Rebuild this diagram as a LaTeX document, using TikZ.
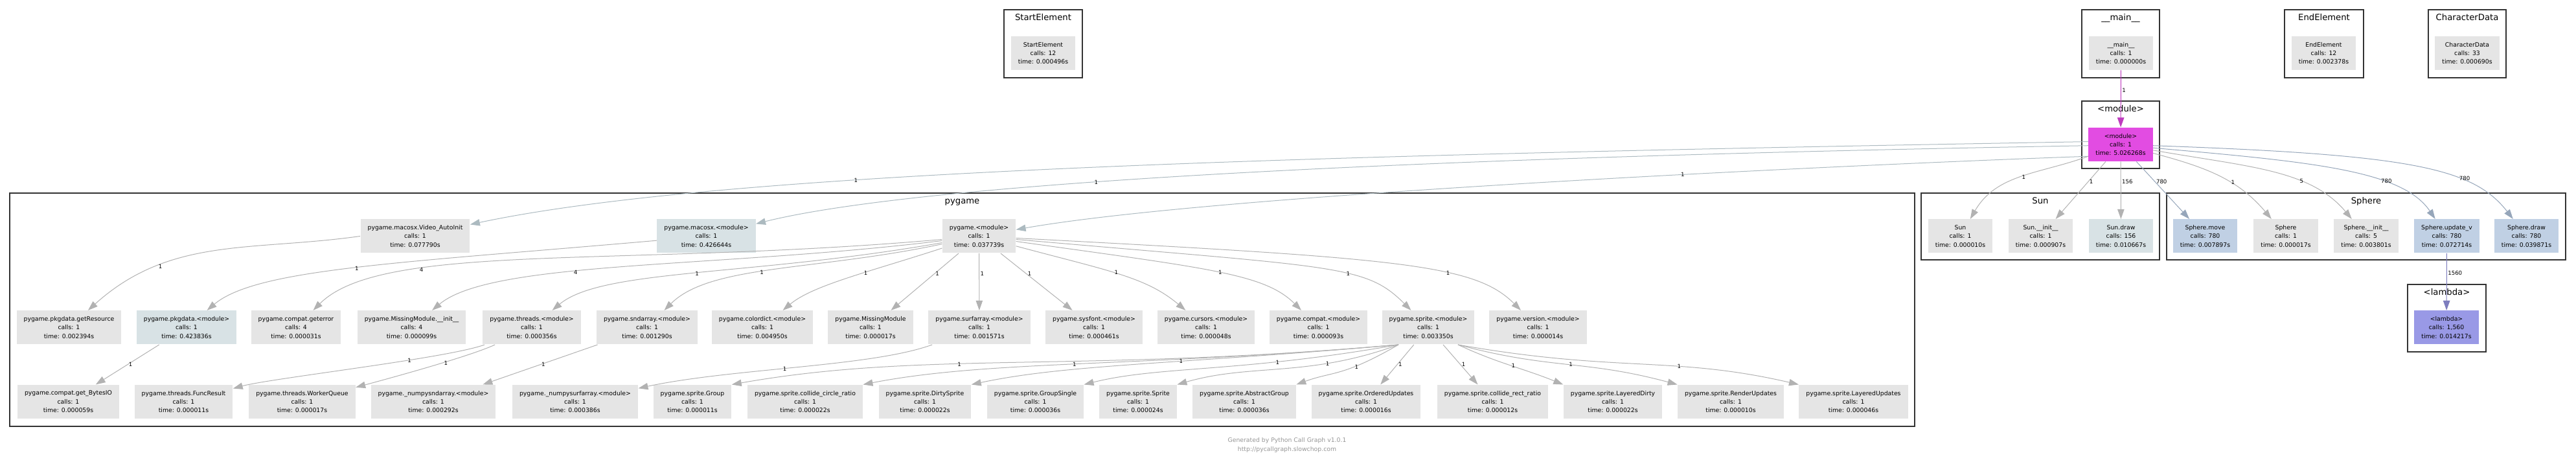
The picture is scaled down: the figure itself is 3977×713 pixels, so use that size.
\documentclass[tikz,border=0pt]{standalone}
\usepackage{fontspec}
\setmainfont{DejaVu Sans}
\usetikzlibrary{arrows.meta}
\definecolor{frame}{RGB}{51,51,51}
\definecolor{boxgray}{RGB}{229,229,229}
\definecolor{boxslate}{RGB}{216,226,229}
\definecolor{boxsteel}{RGB}{192,208,228}
\definecolor{boxmagenta}{RGB}{226,76,226}
\definecolor{boxviolet}{RGB}{153,153,230}
\definecolor{wire}{RGB}{178,178,178}
\definecolor{wireslate}{RGB}{172,186,192}
\definecolor{wiresteel}{RGB}{150,166,186}
\definecolor{wiremagenta}{RGB}{190,60,190}
\definecolor{wireviolet}{RGB}{125,125,190}
\definecolor{footgray}{RGB}{150,150,150}
\tikzset{
  every picture/.style={line width=0.25pt},
  func/.style={fill=boxgray, inner xsep=2.75pt, inner ysep=0pt, minimum width=24.75pt, minimum height=13pt, align=center, font=\fontsize{2.325}{3.35}\selectfont},
  funcslate/.style={func, fill=boxslate},
  funcsteel/.style={func, fill=boxsteel},
  funcmain/.style={func, fill=boxmagenta},
  funclambda/.style={func, fill=boxviolet},
  cluster/.style={draw=frame, line width=0.575pt, inner sep=0pt},
  ctitle/.style={anchor=base, yshift=-4.5pt, inner sep=0pt, font=\fontsize{3.3}{3.75}\selectfont},
  call/.style={draw=wire, -{Triangle[length=3.75pt,width=2.6pt]}, line width=0.25pt},
  callslate/.style={call, draw=wireslate},
  callsteel/.style={call, draw=wiresteel},
  callmain/.style={call, draw=wiremagenta},
  calllambda/.style={call, draw=wireviolet},
  lbl/.style={anchor=west, inner sep=0.375pt, font=\fontsize{2.15}{2.5}\selectfont},
  credit/.style={align=center, text=footgray, font=\fontsize{2.325}{3.5}\selectfont},
}

\begin{document}
\begin{tikzpicture}[x=0.25pt, y=0.25pt]
  \useasboundingbox (0,0) rectangle (3977,713);

  \node[cluster, minimum width=30.25pt, minimum height=26.25pt, label={[ctitle]north:StartElement}] (cstart) at (1610.5,645.5) {};
  \node[cluster, minimum width=30pt, minimum height=26.25pt, label={[ctitle]north:\_\_main\_\_}] (cmain) at (3274,645.5) {};
  \node[cluster, minimum width=30.5pt, minimum height=26.25pt, label={[ctitle]north:EndElement}] (cend) at (3588,645.5) {};
  \node[cluster, minimum width=30pt, minimum height=26.25pt, label={[ctitle]north:CharacterData}] (cchar) at (3809,645.5) {};
  \node[cluster, minimum width=30pt, minimum height=26pt, label={[ctitle]north:<module>}] (cmod) at (3274,505) {};
  \node[cluster, minimum width=735.25pt, minimum height=90pt, label={[ctitle]north:pygame}] (cpygame) at (1485.5,235) {};
  \node[cluster, minimum width=92pt, minimum height=25.75pt, label={[ctitle]north:Sun}] (csun) at (3150,363.5) {};
  \node[cluster, minimum width=154pt, minimum height=25.75pt, label={[ctitle]north:Sphere}] (csphere) at (3653,363.5) {};
  \node[cluster, minimum width=30.25pt, minimum height=26pt, label={[ctitle]north:<lambda>}] (clambda) at (3777.5,222) {};

  \node[func] (startel) at (1610.5,631) {StartElement\\calls: 12\\time: 0.000496s};
  \node[func] (main) at (3274.5,631) {\_\_main\_\_\\calls: 1\\time: 0.000000s};
  \node[func] (endel) at (3587.5,631) {EndElement\\calls: 12\\time: 0.002378s};
  \node[func] (chardata) at (3809,631) {CharacterData\\calls: 33\\time: 0.000690s};
  \node[funcmain] (mod) at (3274,490) {<module>\\calls: 1\\time: 5.026268s};

  \node[func] (video) at (641,348.5) {pygame.macosx.Video\_AutoInit\\calls: 1\\time: 0.077790s};
  \node[funcslate] (macosx) at (1090.5,348.5) {pygame.macosx.<module>\\calls: 1\\time: 0.426644s};
  \node[func] (pygame) at (1511.5,348.5) {pygame.<module>\\calls: 1\\time: 0.037739s};

  \node[func] (getres) at (106.5,207.5) {pygame.pkgdata.getResource\\calls: 1\\time: 0.002394s};
  \node[funcslate] (pkgdata) at (288,207.5) {pygame.pkgdata.<module>\\calls: 1\\time: 0.423836s};
  \node[func] (geterror) at (457,207.5) {pygame.compat.geterror\\calls: 4\\time: 0.000031s};
  \node[func] (missinit) at (635.5,207.5) {pygame.MissingModule.\_\_init\_\_\\calls: 4\\time: 0.000099s};
  \node[func] (threads) at (821,207.5) {pygame.threads.<module>\\calls: 1\\time: 0.000356s};
  \node[func] (sndarr) at (999,207.5) {pygame.sndarray.<module>\\calls: 1\\time: 0.001290s};
  \node[func] (colordict) at (1177,207.5) {pygame.colordict.<module>\\calls: 1\\time: 0.004950s};
  \node[func] (missing) at (1344,207.5) {pygame.MissingModule\\calls: 1\\time: 0.000017s};
  \node[func] (surfarr) at (1512,207.5) {pygame.surfarray.<module>\\calls: 1\\time: 0.001571s};
  \node[func] (sysfont) at (1689,207.5) {pygame.sysfont.<module>\\calls: 1\\time: 0.000461s};
  \node[func] (cursors) at (1862,207.5) {pygame.cursors.<module>\\calls: 1\\time: 0.000048s};
  \node[func] (compat) at (2035.5,207.5) {pygame.compat.<module>\\calls: 1\\time: 0.000093s};
  \node[func] (sprite) at (2205,207.5) {pygame.sprite.<module>\\calls: 1\\time: 0.003350s};
  \node[func] (version) at (2374.5,207.5) {pygame.version.<module>\\calls: 1\\time: 0.000014s};

  \node[func] (bytesio) at (105.5,93) {pygame.compat.get\_BytesIO\\calls: 1\\time: 0.000059s};
  \node[func] (funcres) at (283.5,93) {pygame.threads.FuncResult\\calls: 1\\time: 0.000011s};
  \node[func] (workerq) at (466.5,93) {pygame.threads.WorkerQueue\\calls: 1\\time: 0.000017s};
  \node[func] (npsnd) at (669,93) {pygame.\_numpysndarray.<module>\\calls: 1\\time: 0.000292s};
  \node[func] (npsurf) at (888,93) {pygame.\_numpysurfarray.<module>\\calls: 1\\time: 0.000386s};
  \node[func] (sgroup) at (1069,93) {pygame.sprite.Group\\calls: 1\\time: 0.000011s};
  \node[func] (scircle) at (1243,93) {pygame.sprite.collide\_circle\_ratio\\calls: 1\\time: 0.000022s};
  \node[func] (sdirty) at (1428,93) {pygame.sprite.DirtySprite\\calls: 1\\time: 0.000022s};
  \node[func] (ssingle) at (1598.5,93) {pygame.sprite.GroupSingle\\calls: 1\\time: 0.000036s};
  \node[func] (ssprite) at (1757,93) {pygame.sprite.Sprite\\calls: 1\\time: 0.000024s};
  \node[func] (sabstract) at (1921,93) {pygame.sprite.AbstractGroup\\calls: 1\\time: 0.000036s};
  \node[func] (sordered) at (2109,93) {pygame.sprite.OrderedUpdates\\calls: 1\\time: 0.000016s};
  \node[func] (srect) at (2304.5,93) {pygame.sprite.collide\_rect\_ratio\\calls: 1\\time: 0.000012s};
  \node[func] (sldirty) at (2490,93) {pygame.sprite.LayeredDirty\\calls: 1\\time: 0.000022s};
  \node[func] (srender) at (2672,93) {pygame.sprite.RenderUpdates\\calls: 1\\time: 0.000010s};
  \node[func] (slayered) at (2861.5,93) {pygame.sprite.LayeredUpdates\\calls: 1\\time: 0.000046s};

  \node[func] (sun) at (3026.5,348.5) {Sun\\calls: 1\\time: 0.000010s};
  \node[func] (suninit) at (3150.5,348.5) {Sun.\_\_init\_\_\\calls: 1\\time: 0.000907s};
  \node[funcslate] (sundraw) at (3274.5,348.5) {Sun.draw\\calls: 156\\time: 0.010667s};
  \node[funcsteel] (sphmove) at (3404.5,348.5) {Sphere.move\\calls: 780\\time: 0.007897s};
  \node[func] (sph) at (3529,348.5) {Sphere\\calls: 1\\time: 0.000017s};
  \node[func] (sphinit) at (3653,348.5) {Sphere.\_\_init\_\_\\calls: 5\\time: 0.003801s};
  \node[funcsteel] (sphupd) at (3777.5,348.5) {Sphere.update\_v\\calls: 780\\time: 0.072714s};
  \node[funcsteel] (sphdraw) at (3900.5,348.5) {Sphere.draw\\calls: 780\\time: 0.039871s};
  \node[funclambda] (lambda) at (3777,207.5) {<lambda>\\calls: 1,560\\time: 0.014217s};

  \node[credit] (footer) at (1987,26) {Generated by Python Call Graph v1.0.1\\http://pycallgraph.slowchop.com};

  \draw[callmain] (main) -- node[lbl, pos=0.35] {1} (mod);
  \draw[callslate] (mod.175) to[out=181, in=12, out distance=300pt, in distance=100pt] node[lbl, pos=0.65] {1} (video);
  \draw[callslate] (mod.182) to[out=181, in=14, out distance=375pt, in distance=37.5pt] node[lbl, pos=0.5] {1} (macosx);
  \draw[callslate] (mod.200) to[out=182, in=10, looseness=0.5] node[lbl, pos=0.4] {1} (pygame);
  \draw[call] (mod.200) to[out=200, in=60] node[lbl, pos=0.5] {1} (sun);
  \draw[call] (mod) -- node[lbl, pos=0.35] {1} (suninit);
  \draw[call] (mod) -- node[lbl, pos=0.35] {156} (sundraw);
  \draw[callsteel] (mod) -- node[lbl, pos=0.35] {780} (sphmove);
  \draw[call] (mod.-15) to[out=-15, in=130] node[lbl, pos=0.6] {1} (sph);
  \draw[call] (mod.-10) to[out=-10, in=130, out distance=37.5pt, in distance=25pt] node[lbl, pos=0.64] {5} (sphinit);
  \draw[callsteel] (mod.-6) to[out=-5, in=124, out distance=62.5pt, in distance=22.5pt] node[lbl, pos=0.65] {780} (sphupd);
  \draw[callsteel] (mod.-2) to[out=-2, in=128, out distance=100pt, in distance=25pt] node[lbl, pos=0.66] {780} (sphdraw);
  \draw[calllambda] (sphupd) -- node[lbl, pos=0.34] {1560} (lambda);

  \draw[call] (video.west) to[out=188, in=42] node[lbl, pos=0.72] {1} (getres);
  \draw[call] (macosx) to[out=185, in=40, out distance=100pt, in distance=25pt] node[lbl, pos=0.5] {1} (pkgdata);
  \draw[call] (pygame) to[out=185, in=45, out distance=125pt, in distance=37.5pt] node[lbl, pos=0.7] {4} (geterror);
  \draw[call] (pygame) to[out=187, in=40, out distance=87.5pt, in distance=30pt] node[lbl, pos=0.6] {4} (missinit);
  \draw[call] (pygame) to[out=190, in=40, out distance=75pt, in distance=25pt] node[lbl, pos=0.5] {1} (threads);
  \draw[call] (pygame) to[out=192, in=45, out distance=50pt, in distance=25pt] node[lbl, pos=0.55] {1} (sndarr);
  \draw[call] (pygame) to[out=198, in=40, out distance=30pt, in distance=15pt] node[lbl, pos=0.4] {1} (colordict);
  \draw[call] (pygame) -- node[lbl, pos=0.36] {1} (missing);
  \draw[call] (pygame) -- node[lbl, pos=0.36] {1} (surfarr);
  \draw[call] (pygame) -- node[lbl, pos=0.36] {1} (sysfont);
  \draw[call] (pygame) to[out=-15, in=140, out distance=37.5pt, in distance=20pt] node[lbl, pos=0.45] {1} (cursors);
  \draw[call] (pygame) to[out=-8, in=135, out distance=75pt, in distance=20pt] node[lbl, pos=0.5] {1} (compat);
  \draw[call] (pygame) to[out=-5, in=135, out distance=125pt, in distance=25pt] node[lbl, pos=0.6] {1} (sprite);
  \draw[call] (pygame) to[out=-3, in=135, out distance=150pt, in distance=25pt] node[lbl, pos=0.63] {1} (version);

  \draw[call] (pkgdata) -- node[lbl, pos=0.5] {1} (bytesio);
  \draw[call] (threads) to[out=200, in=15, looseness=0.4] node[lbl, pos=0.35] {1} (funcres);
  \draw[call] (threads) to[out=205, in=15, looseness=0.5] node[lbl, pos=0.4] {1} (workerq);
  \draw[call] (sndarr) -- node[lbl, pos=0.5] {1} (npsnd);
  \draw[call] (surfarr) to[out=200, in=12, out distance=25pt, in distance=37.5pt] node[lbl, pos=0.55] {1} (npsurf);
  \draw[call] (sprite.210) to[out=185, in=10, out distance=125pt, in distance=75pt] node[lbl, pos=0.6] {1} (sgroup.north east);
  \draw[call] (sprite.210) to[out=185, in=11, out distance=100pt, in distance=50pt] node[lbl, pos=0.52] {1} (scircle.north east);
  \draw[call] (sprite.210) to[out=185, in=12, out distance=87.5pt, in distance=37.5pt] node[lbl, pos=0.4] {1} (sdirty.north east);
  \draw[call] (sprite.210) to[out=190, in=14, out distance=62.5pt, in distance=30pt] node[lbl, pos=0.3] {1} (ssingle.north east);
  \draw[call] (sprite.210) to[out=200, in=16, out distance=37.5pt, in distance=30pt] node[lbl, pos=0.3] {1} (ssprite.north east);
  \draw[call] (sprite.210) to[out=210, in=20, out distance=25pt, in distance=15pt] node[lbl, pos=0.35] {1} (sabstract.north east);
  \draw[call] (sprite) -- node[lbl, pos=0.5] {1} (sordered);
  \draw[call] (sprite) -- node[lbl, pos=0.5] {1} (srect);
  \draw[call] (sprite.-30) to[out=-25, in=158] node[lbl, pos=0.5] {1} (sldirty.north west);
  \draw[call] (sprite.-30) to[out=-15, in=165, out distance=37.5pt, in distance=37.5pt] node[lbl, pos=0.5] {1} (srender.north west);
  \draw[call] (sprite.-30) to[out=-10, in=167, out distance=62.5pt, in distance=50pt] node[lbl, pos=0.62] {1} (slayered.north west);
\end{tikzpicture}
\end{document}
